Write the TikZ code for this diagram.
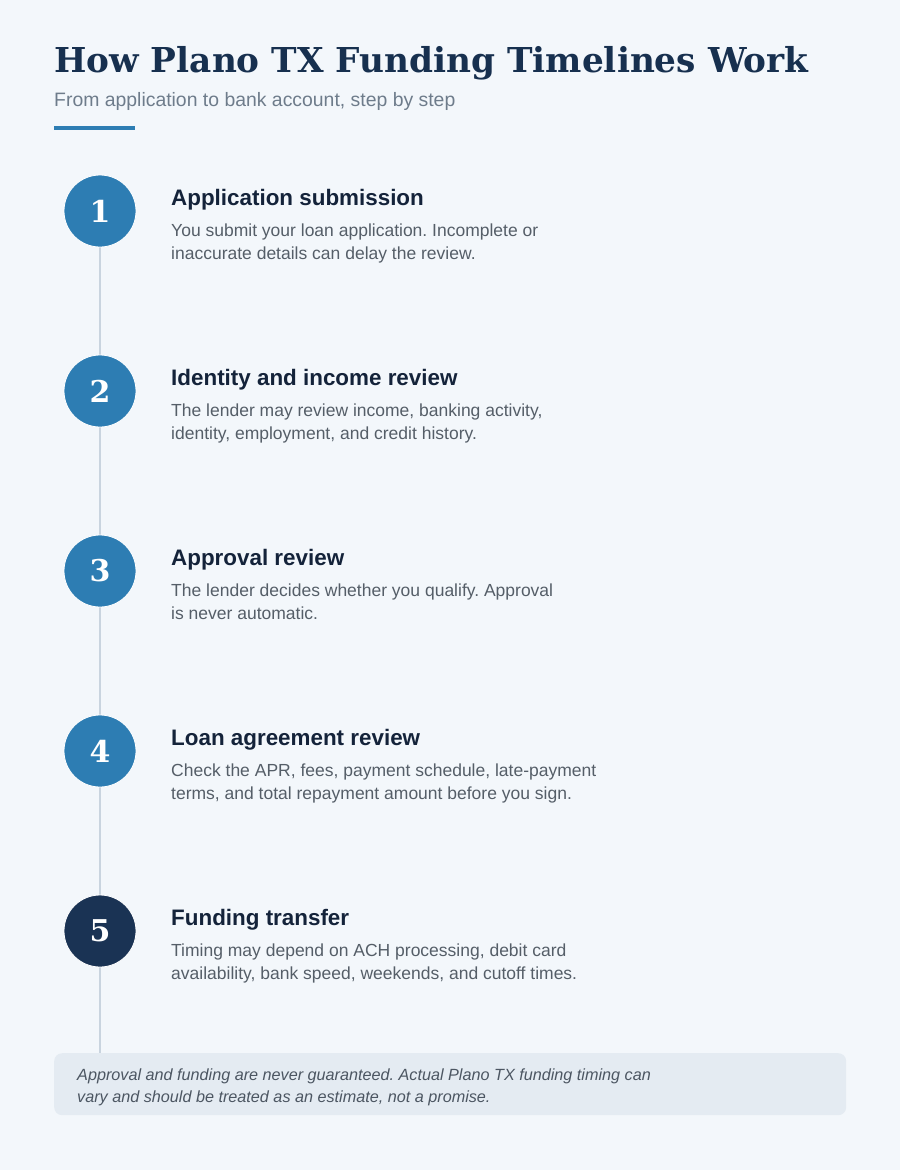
\documentclass[tikz,border=0pt]{standalone}
\usepackage{fontspec}
\setmainfont{Liberation Sans}
\newfontfamily\titlefont{DejaVu Serif}
\definecolor{bgc}{HTML}{F3F7FB}
\definecolor{titlec}{HTML}{17304F}
\definecolor{subc}{HTML}{6E7C8B}
\definecolor{accent}{HTML}{2D7DB3}
\definecolor{darkc}{HTML}{1A3354}
\definecolor{headc}{HTML}{14233A}
\definecolor{descc}{HTML}{555E68}
\definecolor{linec}{HTML}{C9D4DF}
\definecolor{boxc}{HTML}{E4EBF2}
\definecolor{notec}{HTML}{4C5662}
\frenchspacing
\begin{document}
\begin{tikzpicture}[x=1pt,y=-1pt,
  stepcircle/.style={circle,minimum size=72pt,inner sep=0pt,draw=white,line width=0.8pt,text=white,font=\titlefont\bfseries\fontsize{30}{30}\selectfont},
  headtext/.style={anchor=base west,inner sep=0pt,text=headc,font=\bfseries\fontsize{22.4}{24}\selectfont},
  desctext/.style={anchor=base west,inner sep=0pt,text=descc,font=\fontsize{17.5}{23}\selectfont},
  notetext/.style={anchor=base west,inner sep=0pt,text=notec,font=\itshape\fontsize{16.2}{22}\selectfont}]
\useasboundingbox (0,0) rectangle (900,1170);
\fill[bgc] (0,0) rectangle (900,1170);
% title
\node[anchor=base west,inner sep=0pt,text=titlec,font=\titlefont\bfseries\fontsize{34.3}{40}\selectfont] (title) at (54,72) {How Plano TX Funding Timelines Work};
\node[anchor=base west,inner sep=0pt,text=subc,font=\fontsize{19.4}{22}\selectfont] (subtitle) at (54,106) {From application to bank account, step by step};
\fill[accent] (54,126) rectangle (135,130);
% footer box
\node[draw=none,fill=boxc,rounded corners=8pt,minimum width=792pt,minimum height=62pt,anchor=north west,inner sep=0pt] (note) at (54,1053) {};
% timeline line
\coordinate (lineend) at (100,1053);
\coordinate (linestart) at (100,211);
\draw[linec,line width=2.5pt] (linestart) -- (lineend);
% steps
\node[stepcircle,fill=accent] (c1) at (100,211) {1};
\node[stepcircle,fill=accent] (c2) at (100,391) {2};
\node[stepcircle,fill=accent] (c3) at (100,571) {3};
\node[stepcircle,fill=accent] (c4) at (100,751) {4};
\node[stepcircle,fill=darkc] (c5) at (100,931) {5};
\node[headtext] (h1) at (171,205) {Application submission};
\node[desctext] (d1a) at (171,236) {You submit your loan application. Incomplete or};
\node[desctext] (d1b) at (171,259) {inaccurate details can delay the review.};
\node[headtext] (h2) at (171,385) {Identity and income review};
\node[desctext] (d2a) at (171,416) {The lender may review income, banking activity,};
\node[desctext] (d2b) at (171,439) {identity, employment, and credit history.};
\node[headtext] (h3) at (171,565) {Approval review};
\node[desctext] (d3a) at (171,596) {The lender decides whether you qualify. Approval};
\node[desctext] (d3b) at (171,619) {is never automatic.};
\node[headtext] (h4) at (171,745) {Loan agreement review};
\node[desctext] (d4a) at (171,776) {Check the APR, fees, payment schedule, late-payment};
\node[desctext] (d4b) at (171,799) {terms, and total repayment amount before you sign.};
\node[headtext] (h5) at (171,925) {Funding transfer};
\node[desctext] (d5a) at (171,956) {Timing may depend on ACH processing, debit card};
\node[desctext] (d5b) at (171,979) {availability, bank speed, weekends, and cutoff times.};
\node[notetext] (n1) at (77,1080) {Approval and funding are never guaranteed. Actual Plano TX funding timing can};
\node[notetext] (n2) at (77,1102) {vary and should be treated as an estimate, not a promise.};
\end{tikzpicture}
\end{document}
